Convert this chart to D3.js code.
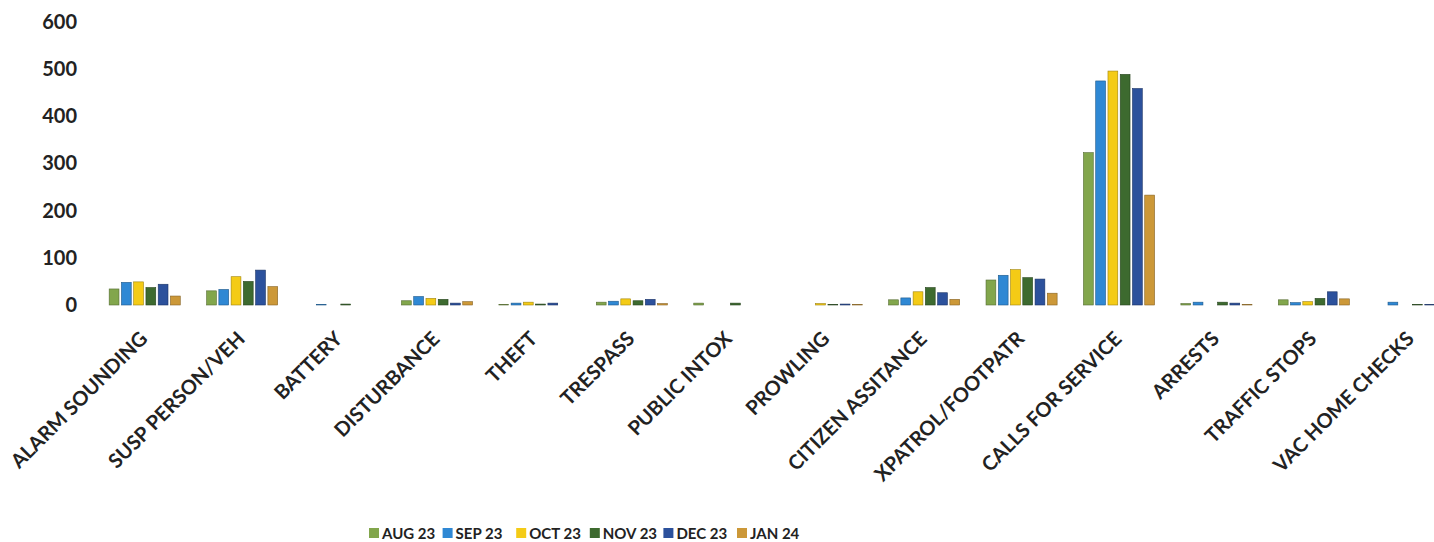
<!DOCTYPE html>
<html>
<head>
<meta charset="utf-8">
<script src="https://cdn.jsdelivr.net/npm/d3@7"></script>
<style>
  body { margin: 0; background: #fff; }
  svg { display: block; }
  text { font-family: Lato, "Open Sans", sans-serif; font-weight: bold; fill: #222; }
</style>
</head>
<body>
<div id="chart"></div>
<script>
const categories = ["ALARM SOUNDING", "SUSP PERSON/VEH", "BATTERY", "DISTURBANCE", "THEFT", "TRESPASS",
  "PUBLIC INTOX", "PROWLING", "CITIZEN ASSITANCE", "XPATROL/FOOTPATR", "CALLS FOR SERVICE",
  "ARRESTS", "TRAFFIC STOPS", "VAC HOME CHECKS"];
const seriesNames = ["AUG 23", "SEP 23", "OCT 23", "NOV 23", "DEC 23", "JAN 24"];
const aug23 = [34, 30, 0, 9, 1, 6, 4, 0, 11, 53, 323, 3, 11, 0];
const sep23 = [48, 33, 1, 18, 4, 8, 0, 0, 15, 63, 475, 6, 5, 6];
const oct23 = [49, 60, 0, 14, 6, 13, 0, 3, 28, 75, 496, 0, 7, 0];
const nov23 = [37, 50, 2, 12, 2, 9, 4, 1, 37, 58, 489, 6, 14, 1];
const dec23 = [44, 74, 0, 4, 4, 12, 0, 2, 26, 55, 459, 4, 28, 1];
const jan24 = [19, 39, 0, 7, 0, 3, 0, 1, 12, 25, 233, 1, 13, 0];
const yTicks = [0, 100, 200, 300, 400, 500, 600];
const colors = ["#82a64c", "#2f88d4", "#f4cb16", "#3d6a2f", "#2c519c", "#cc9838"];

const W = 1434, H = 542;
const seriesValues = [aug23, sep23, oct23, nov23, dec23, jan24];

const svg = d3.select("#chart").append("svg")
  .attr("width", W).attr("height", H);

const x = d3.scaleBand().domain(categories).range([96, 1460]).paddingInner(0.22).paddingOuter(0.11);
const xs = d3.scaleBand().domain(seriesNames).range([0, x.bandwidth()]).padding(0.2);
const y = d3.scaleLinear().domain([0, 600]).range([305, 22]);

// y axis labels only
const yAxis = svg.append("g")
  .attr("transform", "translate(77,0)")
  .call(d3.axisLeft(y).tickValues(yTicks).tickSize(0).tickPadding(0));
yAxis.select(".domain").remove();
yAxis.selectAll("text").style("font-size", "20px").attr("fill", "#222");

// bars
const groups = svg.append("g").selectAll("g")
  .data(categories)
  .join("g")
  .attr("transform", d => "translate(" + x(d) + ",0)");

groups.selectAll("rect")
  .data((c, i) => seriesNames.map((s, k) => ({ s: s, k: k, v: seriesValues[k][i] })))
  .join("rect")
  .attr("x", d => xs(d.s))
  .attr("width", xs.bandwidth())
  .attr("y", d => y(d.v))
  .attr("height", d => y(0) - y(d.v))
  .attr("fill", d => colors[d.k])
  .attr("stroke", d => d3.color(colors[d.k]).darker(1.2))
  .attr("stroke-width", 0.6);

// category labels, rotated
svg.append("g").selectAll("text")
  .data(categories)
  .join("text")
  .attr("transform", d => "translate(" + (x(d) + x.bandwidth() / 2 + 4) + ",340) rotate(-45)")
  .attr("text-anchor", "end")
  .style("font-size", "20px")
  .text(d => d);

// legend
const legend = svg.append("g").attr("transform", "translate(369,533)");
const item = legend.selectAll("g")
  .data(seriesNames)
  .join("g")
  .attr("transform", (d, i) => "translate(" + (i * 73.6) + ",0)");
item.append("rect")
  .attr("x", 0).attr("y", -5)
  .attr("width", 10).attr("height", 10)
  .attr("fill", (d, i) => colors[i]);
item.append("text")
  .attr("x", 13).attr("y", 6)
  .style("font-size", "15px")
  .text(d => d);
</script>
</body>
</html>
